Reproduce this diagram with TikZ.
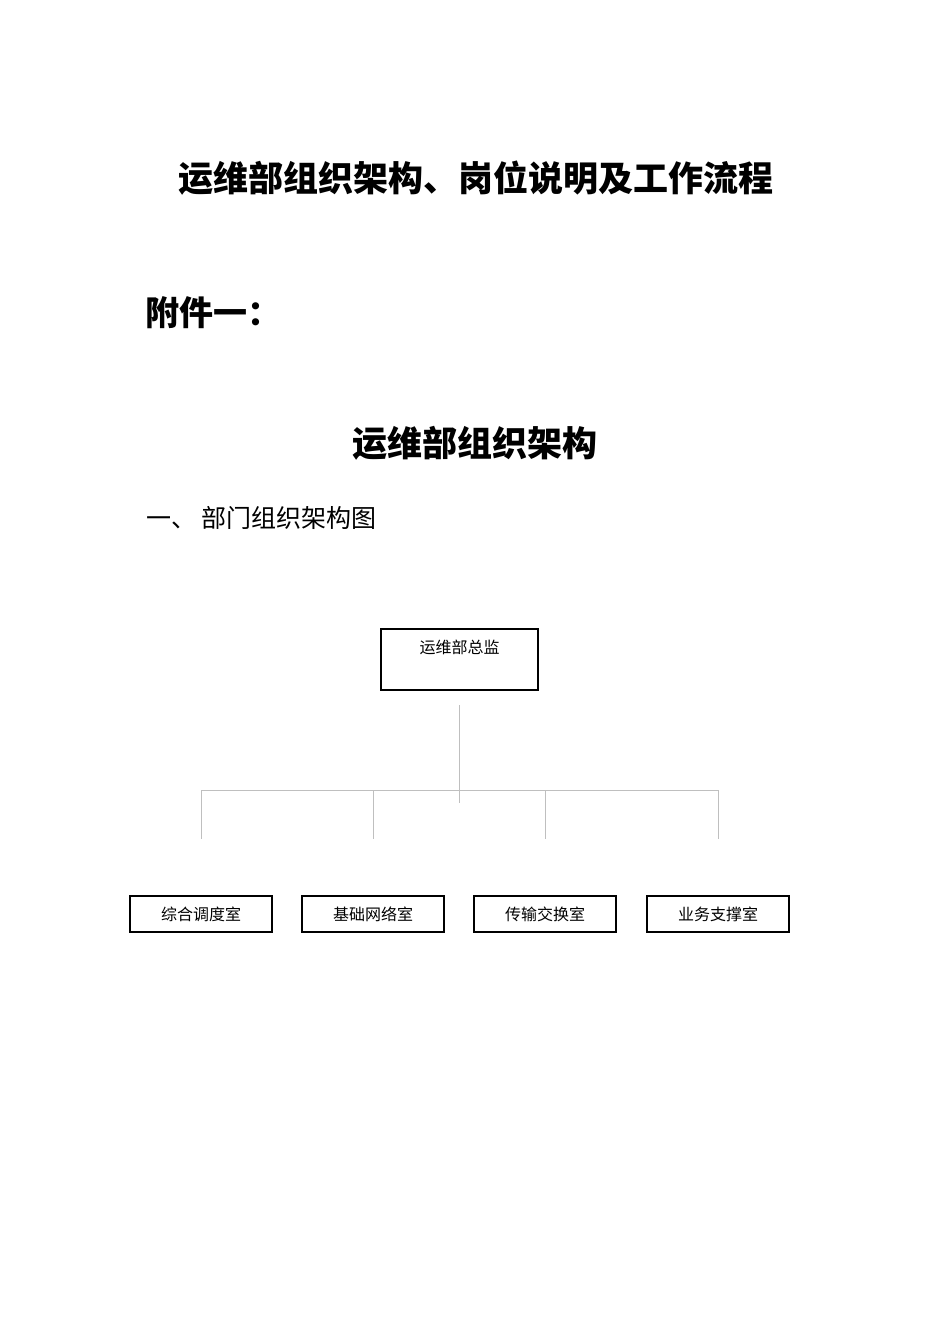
\documentclass[tikz,border=0pt]{standalone}
\usepackage{fontspec}
\setmainfont{Noto Sans CJK SC}
\usepackage{tikz}
\tikzset{
  headbox/.style = 	{shape=rectangle, draw, line width=1.2pt,
				minimum width=157pt, minimum height=61pt, inner sep=0pt,
				text height=14pt, text depth=27pt},
  deptbox/.style = 	{shape=rectangle, draw, line width=1.2pt,
				minimum width=142pt, minimum height=36pt, inner sep=0pt},
  link/.style = 	{draw=black!25, line width=0.9pt},
  bigtitle/.style = 	{font=\bfseries\fontsize{35}{40}\selectfont},
}

\begin{document}
\begin{tikzpicture}
	[
		x                       = 1pt,
		y                       = -1pt,
		every node/.style       = {font=\fontsize{16}{18}\selectfont},
	]
	\useasboundingbox (0,0) rectangle (950,1344);
	% headings
	\node [bigtitle] (title) at (475.5,178) {运维部组织架构、岗位说明及工作流程};
	\node [bigtitle, anchor=west, font=\bfseries\fontsize{34}{40}\selectfont] (annex) at (142,313) {附件一：};
	\node [bigtitle] (subtitle) at (475,443) {运维部组织架构};
	\node [anchor=west, font=\fontsize{25}{30}\selectfont] (section) at (143,518) {一、\hspace{5pt}部门组织架构图};
	% chart
	\node [headbox] (director) at (459.5,659.5) {运维部总监};
	\coordinate (trunkTop) at (459,705);
	\coordinate (trunkBottom) at (459,803);
	\draw [link] (trunkTop) -- (trunkBottom);
	\foreach \name/\x/\txt in {dispatch/201/综合调度室, network/373/基础网络室,
		transfer/545/传输交换室, support/718/业务支撑室}
	{
		\node [deptbox] (\name) at (\x,914) {\txt};
		\coordinate (\name-join) at (\x,790);
		\coordinate (\name-end) at (\x,839);
		\draw [link] (\name-join) -- (\name-end);
	}
	\draw [link] (dispatch-join) -- (support-join);
\end{tikzpicture}
\end{document}
